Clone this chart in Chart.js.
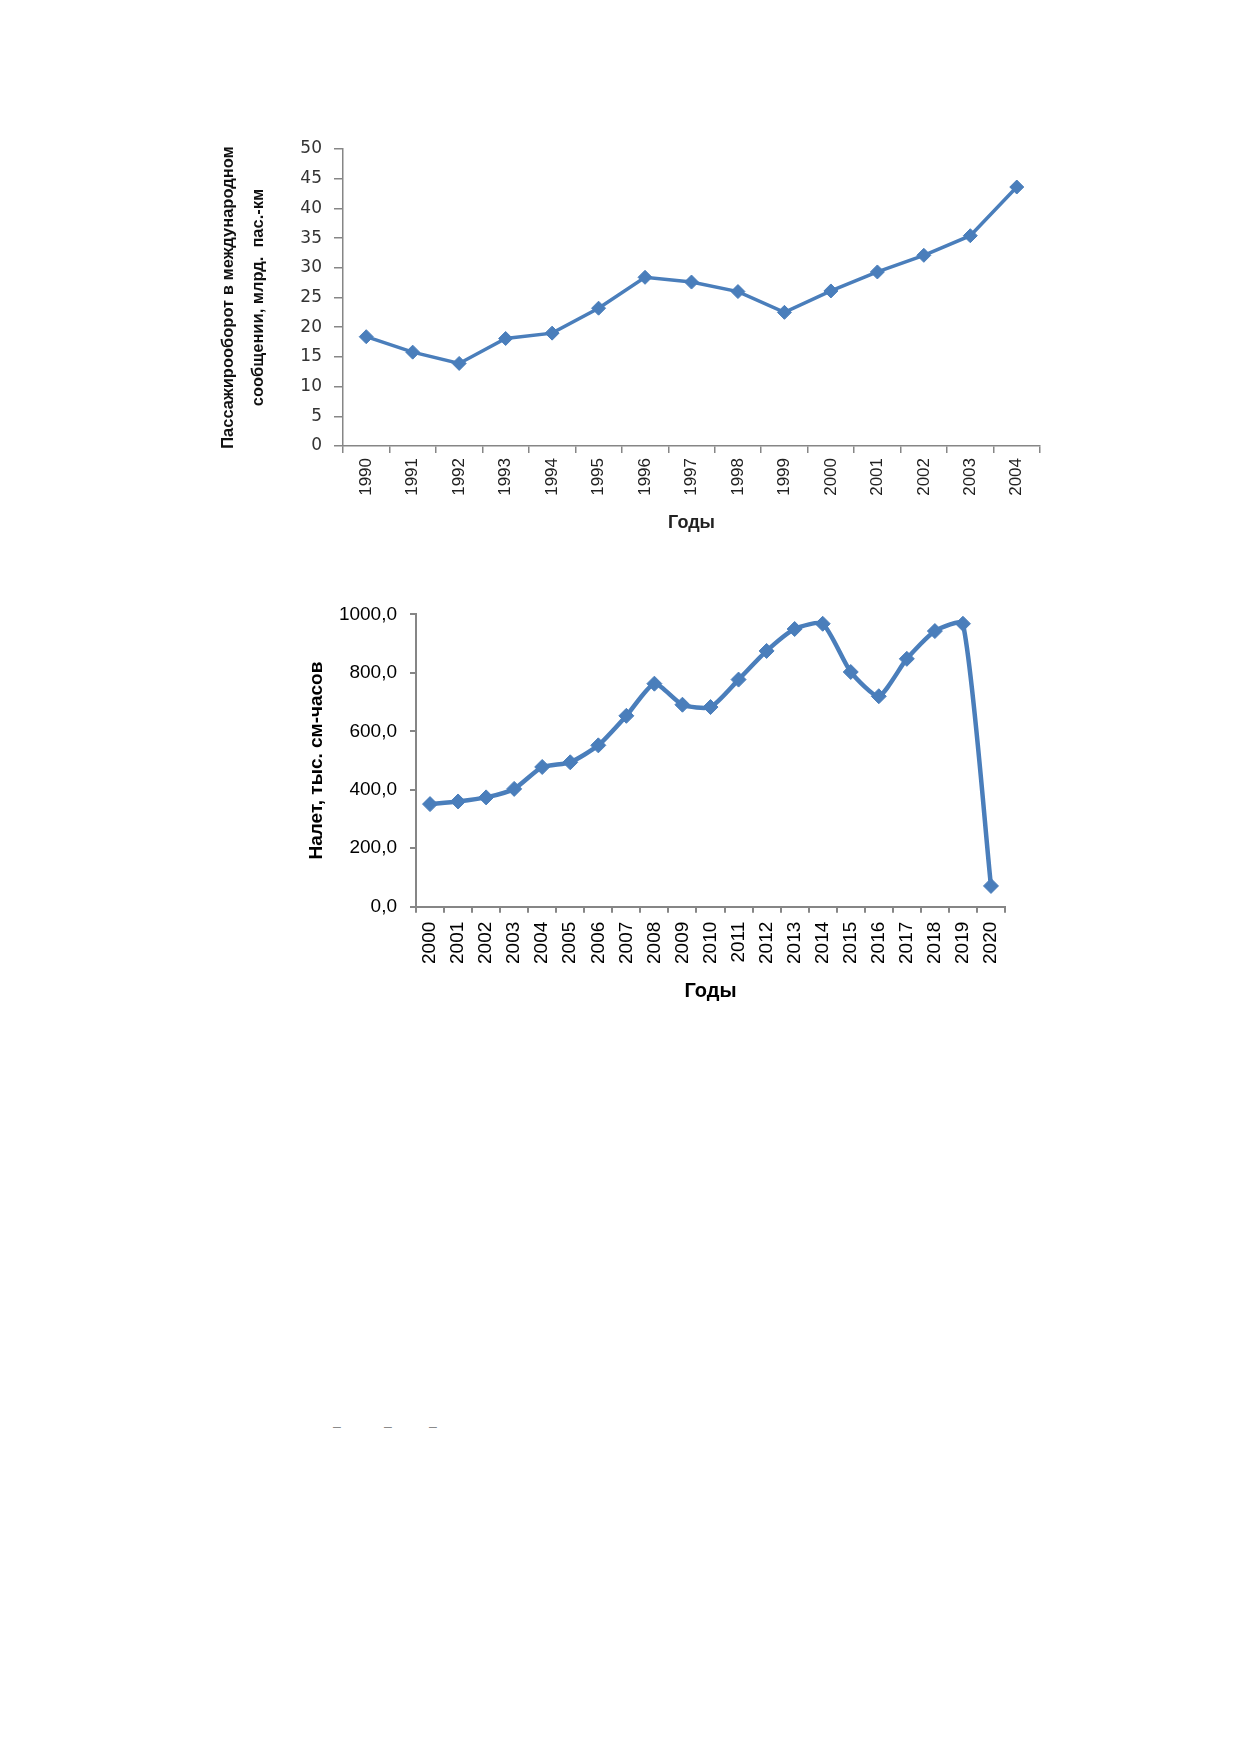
<!DOCTYPE html>
<html lang="ru">
<head>
<meta charset="utf-8">
<title>Пассажирооборот и налет</title>
<script src="https://cdn.jsdelivr.net/npm/chart.js@4.4.1/dist/chart.umd.min.js"></script>
<style>
  html, body { margin: 0; padding: 0; background: #fff; }
  body { width: 1239px; height: 1754px; position: relative; overflow: hidden; }
  canvas { position: absolute; }
  #chart1 { left: 200px; top: 120px; }
  #chart2 { left: 290px; top: 590px; }
  .dash { position: absolute; top: 1418px; font: 14px "Liberation Sans", sans-serif; color: #8a8a8a; }
</style>
</head>
<body>
<canvas id="chart1" width="860" height="430"></canvas>
<canvas id="chart2" width="740" height="430"></canvas>
<span class="dash" style="left:333px">–</span>
<span class="dash" style="left:384px">–</span>
<span class="dash" style="left:429px">–</span>

<script>
// Данные первого графика: пассажирооборот в международном сообщении
const years1 = ['1990','1991','1992','1993','1994','1995','1996','1997','1998','1999','2000','2001','2002','2003','2004'];
const passTurnover = [18.4, 15.8, 13.9, 18.1, 19.0, 23.2, 28.4, 27.6, 26.0, 22.5, 26.1, 29.3, 32.1, 35.4, 43.6];
const yTicks1 = [0, 5, 10, 15, 20, 25, 30, 35, 40, 45, 50];

// Данные второго графика: налет, тыс. см-часов
const years2 = ['2000','2001','2002','2003','2004','2005','2006','2007','2008','2009','2010',
                '2011','2012','2013','2014','2015','2016','2017','2018','2019','2020'];
const flightHours = [351, 360, 374, 403, 478, 494, 552, 653, 763, 691, 683,
                     777, 875, 950, 968, 803, 720, 848, 943, 968, 71];
const yTicks2 = [0, 200, 400, 600, 800, 1000];

const BLUE = '#4A7EBB';
const AXIS = '#868686';

// Первый график
new Chart(document.getElementById('chart1'), {
  type: 'line',
  data: {
    labels: years1,
    datasets: [{
      data: passTurnover,
      borderColor: BLUE,
      backgroundColor: BLUE,
      borderWidth: 3.5,
      tension: 0,
      pointStyle: 'rectRot',
      pointRadius: 7,
      pointBorderWidth: 1,
      pointBackgroundColor: BLUE,
      pointBorderColor: BLUE
    }]
  },
  options: {
    responsive: false,
    animation: false,
    layout: { padding: { top: 29, right: 20, bottom: 0, left: 0 } },
    plugins: { legend: { display: false }, tooltip: { enabled: false } },
    scales: {
      x: {
        offset: true,
        grid: { offset: true, drawOnChartArea: false, drawTicks: true, tickLength: 7, tickColor: AXIS, lineWidth: 1.5 },
        border: { color: AXIS, width: 1.5 },
        ticks: { minRotation: 90, maxRotation: 90, padding: 5, color: '#222',
                 font: { family: '"Liberation Sans", sans-serif', size: 17 } },
        title: { display: true, text: 'Годы', color: '#222', padding: { top: 0, bottom: 16 },
                 font: { family: '"Liberation Sans", sans-serif', size: 18, weight: 'bold' } },
        afterFit: s => { s.height = 104; }
      },
      y: {
        min: 0, max: 50,
        afterBuildTicks: s => { s.ticks = yTicks1.map(v => ({ value: v })); },
        grid: { drawOnChartArea: false, drawTicks: true, tickLength: 9, tickColor: AXIS, lineWidth: 1.5 },
        border: { color: AXIS, width: 1.5 },
        ticks: { padding: 12, color: '#333',
                 font: { family: '"DejaVu Sans", sans-serif', size: 17 } },
        title: { display: true,
                 text: ['Пассажирооборот в международном', 'сообщении, млрд.  пас.-км'],
                 color: '#111', padding: { top: 14, bottom: 0 },
                 font: { family: '"Liberation Sans", sans-serif', size: 16.5, weight: 'bold', lineHeight: 1.8 } },
        afterFit: s => { s.width = 143; }
      }
    }
  }
});

// Второй график
new Chart(document.getElementById('chart2'), {
  type: 'line',
  data: {
    labels: years2,
    datasets: [{
      data: flightHours,
      borderColor: BLUE,
      backgroundColor: BLUE,
      borderWidth: 4.5,
      tension: 0.2,
      pointStyle: 'rectRot',
      pointRadius: 7.5,
      pointBorderWidth: 1,
      pointBackgroundColor: BLUE,
      pointBorderColor: BLUE
    }]
  },
  options: {
    responsive: false,
    animation: false,
    layout: { padding: { top: 23.4, right: 25, bottom: 0, left: 0 } },
    plugins: { legend: { display: false }, tooltip: { enabled: false } },
    scales: {
      x: {
        offset: true,
        grid: { offset: true, drawOnChartArea: false, drawTicks: true, tickLength: 6, tickColor: AXIS, lineWidth: 2 },
        border: { color: AXIS, width: 2 },
        ticks: { minRotation: 90, maxRotation: 90, padding: 9, color: '#000',
                 font: { family: '"Liberation Sans", sans-serif', size: 19 } },
        title: { display: true, text: 'Годы', color: '#000', padding: { top: 0, bottom: 17 },
                 font: { family: '"Liberation Sans", sans-serif', size: 20, weight: 'bold' } },
        afterFit: s => { s.height = 113.3; }
      },
      y: {
        min: 0, max: 1000,
        afterBuildTicks: s => { s.ticks = yTicks2.map(v => ({ value: v })); },
        grid: { drawOnChartArea: false, drawTicks: true, tickLength: 6, tickColor: AXIS, lineWidth: 2 },
        border: { color: AXIS, width: 2 },
        ticks: { padding: 13, color: '#000',
                 callback: v => v.toFixed(1).replace('.', ','),
                 font: { family: '"Liberation Sans", sans-serif', size: 19 } },
        title: { display: true, text: 'Налет, тыс. см-часов', color: '#000', padding: { top: 15.5, bottom: 0 },
                 font: { family: '"Liberation Sans", sans-serif', size: 19, weight: 'bold' } },
        afterFit: s => { s.width = 126; }
      }
    }
  }
});
</script>
</body>
</html>
